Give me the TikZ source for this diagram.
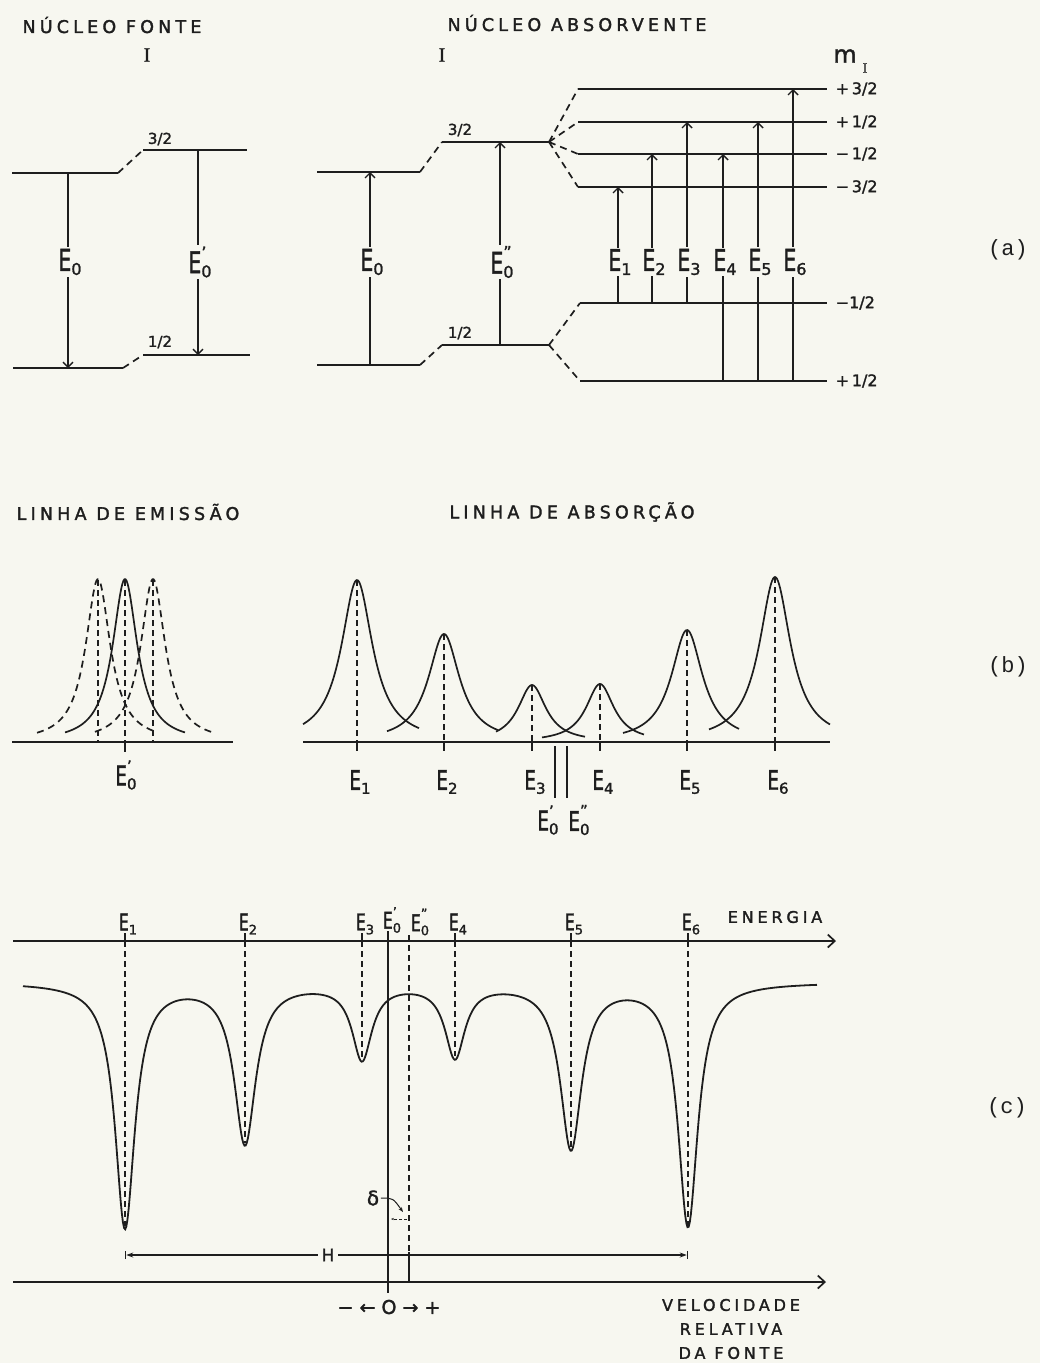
\documentclass[tikz,border=0pt]{standalone}
\usepackage{fontspec}
\usepackage{graphicx}
\setmainfont[FakeBold=1.6]{DejaVu Sans}
\newfontfamily\ltf[LetterSpace=24,FakeBold=1.8]{DejaVu Sans}
\newfontfamily\monof{Liberation Mono}
\newfontfamily\serf[FakeBold=1]{Liberation Serif}
\usetikzlibrary{arrows.meta}
\definecolor{paper}{RGB}{247,247,240}
\definecolor{ink}{RGB}{30,30,30}
% #1 E size, #2 sub size, #3 drop, #4 prime raise, #5 sub, #6 prime
\newcommand\Eg[6]{{\fontsize{#1}{#1}\selectfont\scalebox{0.68}[1]{E}}%
\makebox[0pt][l]{\raisebox{#4}{\fontsize{#2}{#2}\selectfont #6}}%
\raisebox{-#3}{\fontsize{#2}{#2}\selectfont #5}}
\newcommand\EA[2]{\Eg{30}{16}{4pt}{15pt}{#1}{#2}}
\newcommand\EB[2]{\Eg{27}{15}{4pt}{14pt}{#1}{#2}}
\newcommand\EC[2]{\Eg{23}{13}{4pt}{12pt}{#1}{#2}}
\newcommand\dpr{\raisebox{1pt}{''}}
\begin{document}
\begin{tikzpicture}[x=1pt,y=-1pt,line width=1.5pt,color=ink,
 declare function={lor(\xx,\cc,\ww)=1/(1+((\xx-\cc)/\ww)*((\xx-\cc)/\ww));},
 lvl/.style={line width=1.8pt},
 dsh/.style={line width=1.7pt,dash pattern=on 7pt off 5pt},
 tr/.style={line width=1.4pt,-{Straight Barb[length=5pt,width=10pt]}},
 lab/.style={fill=paper,inner sep=1.5pt},
 num/.style={font=\fontsize{15}{16}\selectfont,inner sep=1pt},
 mi/.style={font=\fontsize{16}{18}\selectfont,anchor=west,inner sep=0pt},
 ttl/.style={font=\ltf\fontsize{17.5}{20}\selectfont,inner sep=0pt},
 pan/.style={font=\monof\fontsize{22}{24}\selectfont},
 vdash/.style={line width=1.4pt,dash pattern=on 6pt off 4pt},
 curve/.style={line width=1.7pt},
 axarr/.style={line width=1.7pt,-{Straight Barb[length=7pt,width=13pt]}}]
\fill[paper] (0,0) rectangle (1040,1363);
\useasboundingbox (0,0) rectangle (1040,1363);

% ---------------- panel (a) ----------------
\node[ttl] (tfon) at (112,25) {NÚCLEO FONTE};
\node[font=\serf\fontsize{20}{20}\selectfont] (ifon) at (147,55) {I};
\node[ttl] (tabs) at (577,23) {NÚCLEO ABSORVENTE};
\node[font=\serf\fontsize{20}{20}\selectfont] (iabs) at (442,55) {I};

% source
\coordinate (su1) at (12,173); \coordinate (su2) at (118,173);
\coordinate (su3) at (143,150); \coordinate (su4) at (247,150);
\coordinate (sl1) at (13,368); \coordinate (sl2) at (123,368);
\coordinate (sl3) at (143,355); \coordinate (sl4) at (250,355);
\draw[lvl] (su1) -- (su2); \draw[dsh] (su2) -- (su3); \draw[lvl] (su3) -- (su4);
\draw[lvl] (sl1) -- (sl2); \draw[dsh] (sl2) -- (sl3); \draw[lvl] (sl3) -- (sl4);
\node[num] (s32) at (160,139) {3/2};
\node[num] (s12) at (160,342) {1/2};
\coordinate (e0t) at (68,173); \coordinate (e0b) at (68,368);
\draw[tr] (e0t) -- (e0b);
\node[lab] (le0) at (70,262) {\EA{0}{}};
\coordinate (e0pt) at (198,150); \coordinate (e0pb) at (198,355);
\draw[tr] (e0pt) -- (e0pb);
\node[lab] (le0p) at (200,262) {\EA{0}{'}};

% absorber
\coordinate (au1) at (317,172); \coordinate (au2) at (420,172);
\coordinate (au3) at (442,142); \coordinate (au4) at (549,142);
\coordinate (al1) at (317,365); \coordinate (al2) at (420,365);
\coordinate (al3) at (442,345); \coordinate (al4) at (549,345);
\draw[lvl] (au1) -- (au2); \draw[dsh] (au2) -- (au3); \draw[lvl] (au3) -- (au4);
\draw[lvl] (al1) -- (al2); \draw[dsh] (al2) -- (al3); \draw[lvl] (al3) -- (al4);
\node[num] (a32) at (460,130) {3/2};
\node[num] (a12) at (460,333) {1/2};
\coordinate (f0b) at (370,365); \coordinate (f0t) at (370,172);
\draw[tr] (f0b) -- (f0t);
\node[lab] (lf0) at (372,262) {\EA{0}{}};
\coordinate (f0pb) at (500,345); \coordinate (f0pt) at (500,142);
\draw[tr] (f0pb) -- (f0pt);
\node[lab] (lf0p) at (502,262) {\EA{0}{\dpr}};

% Zeeman levels
\foreach \nm/\yy in {p3/89,p1/122,m1/154,m3/187}{
  \coordinate (z\nm a) at (578,\yy); \coordinate (z\nm b) at (827,\yy);
  \draw[dsh] (au4) -- (z\nm a); \draw[lvl] (z\nm a) -- (z\nm b);}
\foreach \nm/\yy in {m1/303,p1/381}{
  \coordinate (g\nm a) at (580,\yy); \coordinate (g\nm b) at (827,\yy);
  \draw[dsh] (al4) -- (g\nm a); \draw[lvl] (g\nm a) -- (g\nm b);}
\node[mi] (lzp3) at (835,89) {+\,3/2};
\node[mi] (lzp1) at (835,122) {+\,1/2};
\node[mi] (lzm1) at (835,154) {−\,1/2};
\node[mi] (lzm3) at (835,187) {−\,3/2};
\node[mi] (lgm1) at (835,303) {−1/2};
\node[mi] (lgp1) at (835,381) {+\,1/2};
\node[font=\fontsize{24}{24}\selectfont,inner sep=0pt] (mm) at (845,56) {m};
\node[font=\serf\fontsize{14}{14}\selectfont,inner sep=0pt] (mii) at (865,68) {I};

\foreach \i/\xx/\yb/\yt in {1/618/303/187,2/652/303/154,3/687/303/122,4/723/381/154,5/758/381/122,6/793/381/89}{
  \coordinate (t\i b) at (\xx,\yb); \coordinate (t\i t) at (\xx,\yt);
  \draw[tr] (t\i b) -- (t\i t);
  \node[lab] (lt\i) at (\xx+2,262) {\EA{\i}{}};}
\node[pan] (pa) at (1008,250) {(a)};

% ---------------- panel (b) ----------------
\node[ttl] (tem) at (128,512) {LINHA DE EMISSÃO};
\node[ttl] (tab) at (572,512) {LINHA DE ABSORÇÃO};
\coordinate (eb1) at (12,742); \coordinate (eb2) at (233,742);
\draw[lvl] (eb1) -- (eb2);
\draw[curve] plot[domain=65:185,samples=120] (\x,{742-163*lor(\x,125,15)});
\draw[curve,dash pattern=on 7pt off 5pt] plot[domain=37:155,samples=120] (\x,{742-163*lor(\x,98,15)});
\draw[curve,dash pattern=on 7pt off 5pt] plot[domain=95:215,samples=120] (\x,{742-163*lor(\x,153,15)});
\foreach \xx in {98,125,153}{\draw[vdash] (\xx,580) -- (\xx,742);}
\draw[line width=1.3pt] (125,742) -- (125,752);
\node (lem) at (126,775) {\EB{0}{'}};

\coordinate (ab1) at (303,742); \coordinate (ab2) at (830,742);
\draw[lvl] (ab1) -- (ab2);
\foreach \cx/\hh/\da/\db/\ww/\k in {357/162/303/419/19/1,444/108/387/498/19/2,532/57/496/585/17/3,600/58/542/644/17/4,687/112/623/739/19/5,775/165/709/830/19/6}{
  \draw[curve] plot[domain=\da:\db,samples=120] (\x,{742-\hh*lor(\x,\cx,\ww)});
  \draw[vdash] (\cx,{742-\hh}) -- (\cx,742);
  \draw[line width=1.3pt] (\cx,742) -- (\cx,751);
  \node (lb\k) at (\cx+3,782) {\EB{\k}{}};}
\coordinate (o1t) at (555,746); \coordinate (o1b) at (555,798);
\coordinate (o2t) at (567,746); \coordinate (o2b) at (567,798);
\draw[line width=1.3pt] (o1t) -- (o1b); \draw[line width=1.3pt] (o2t) -- (o2b);
\node (lo1) at (548,820) {\EB{0}{'}};
\node (lo2) at (579,820) {\EB{0}{\dpr}};
\node[pan] (pb) at (1008,667) {(b)};

% ---------------- panel (c) ----------------
\coordinate (ta1) at (13,941); \coordinate (ta2) at (836,941);
\draw[axarr] (ta1) -- (ta2);
\node[font=\ltf\fontsize{16}{18}\selectfont] (en) at (775,917) {ENERGIA};
\foreach \xx/\yb/\k in {125/1226/1,245/1143/2,362/1058/3,455/1056/4,571/1148/5,688/1226/6}{
  \draw[vdash] (\xx,941) -- (\xx,\yb);
  \draw[line width=1.3pt] (\xx,933) -- (\xx,941);
  \node (lc\k) at (\xx+3,924) {\EC{\k}{}};}
\node (lc0p) at (392,920) {\EC{0}{'}};
\node (lc0pp) at (420,922) {\EC{0}{\dpr}};
\coordinate (q1t) at (388,931); \coordinate (q1b) at (388,1293);
\draw[line width=1.5pt] (q1t) -- (q1b);
\coordinate (q2t) at (409,935); \coordinate (q2m) at (409,1252); \coordinate (q2b) at (409,1282);
\draw[vdash] (q2t) -- (q2m); \draw[line width=1.4pt] (q2m) -- (q2b);
\draw[line width=1.8pt] plot[domain=23:817,samples=700]
  (\x,{982+245*lor(\x,125,12)+160*lor(\x,245,13)+75*lor(\x,362,12)+73*lor(\x,455,12)+165*lor(\x,571,13)+243*lor(\x,688,12)});
\coordinate (hL) at (125,1255); \coordinate (hR) at (688,1255);
\draw[line width=1.3pt,|<->|,>={Stealth[length=7pt,width=5pt]}] (hL) -- (hR);
\node[fill=paper,inner sep=4pt,font=\fontsize{17}{17}\selectfont] (hh) at (328,1255) {H};
\node[font=\fontsize{20}{20}\selectfont,inner sep=1pt] (dl) at (373,1198) {δ};
\coordinate (dtip) at (403,1212);
\draw[line width=1pt,-{Stealth[length=5pt]}] (dl.east) .. controls (393,1198) .. (dtip);
\coordinate (dd1) at (407,1219); \coordinate (dd2) at (391,1219);
\draw[line width=0.8pt,dash pattern=on 3pt off 2pt,-{Stealth[length=3pt]}] (dd1) -- (dd2);
\coordinate (ba1) at (13,1282); \coordinate (ba2) at (826,1282);
\draw[axarr] (ba1) -- (ba2);
\node[font=\fontsize{19}{19}\selectfont] (orig) at (389,1307) {− ← O → +};
\node[align=center,font=\ltf\fontsize{16}{24}\selectfont] (vel) at (731,1329) {VELOCIDADE\\RELATIVA\\DA FONTE};
\node[pan] (pc) at (1007,1108) {(c)};
\end{tikzpicture}
\end{document}
